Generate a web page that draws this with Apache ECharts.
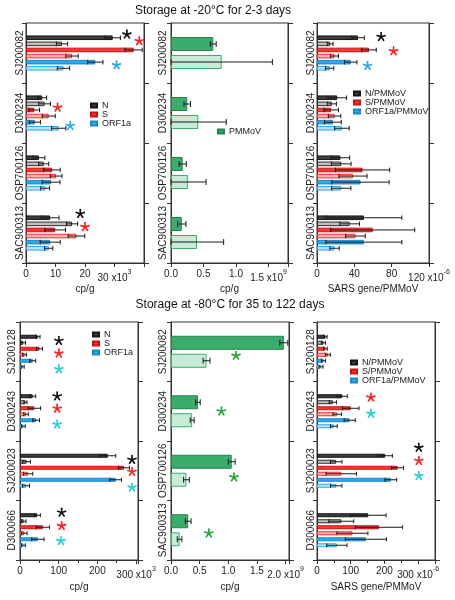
<!DOCTYPE html>
<html><head><meta charset="utf-8">
<script src="https://cdn.jsdelivr.net/npm/echarts@6/dist/echarts.min.js"></script>
<style>html,body{margin:0;padding:0;background:#fff}#c{width:455px;height:600px}</style>
</head><body><div id="c"></div>
<script>
// ================= DATA =================
const topSamples = ['SJ200082', 'D300234', 'OSP700126', 'SAC900313'];
const bottomSarsSamples = ['SJ200128', 'D300243', 'SJ200023', 'D300066'];
const bottomPmmovSamples = ['SJ200082', 'D300234', 'OSP700126', 'SAC900313'];

// A: -20°C, SARS genes, cp/g (x10^3); first (dark) and second (light) bar per gene
const A_N = [29.4, 5.5, 4.4, 8.2],    A_N_err = [2.6, 1.5, 2.0, 3.0];
const A_N2 = [12.2, 6.3, 6.0, 15.6],  A_N2_err = [1.9, 2.0, 1.7, 1.9];
const A_S = [36.5, 2.8, 8.8, 9.9],    A_S_err = [2.9, 1.8, 2.8, 3.5];
const A_S2 = [15.6, 7.7, 10.2, 17.1], A_S2_err = [2.1, 2.2, 2.0, 2.8];
const A_O = [23.5, 3.0, 8.5, 8.2],    A_O_err = [2.6, 1.9, 3.0, 3.4];
const A_O2 = [12.7, 11.1, 6.5, 7.7],  A_O2_err = [2.1, 2.4, 1.5, 1.4];
// stars: [x value, sample index, bar row, gene]
const A_stars = [[34.2, 0, -0.55, 'N'], [38.4, 0, 0.55, 'S'], [30.7, 0, 4.5, 'ORF1a'],
                 [10.7, 1, 1.6, 'S'], [15.0, 1, 4.6, 'ORF1a'],
                 [18.4, 3, -0.65, 'N'], [20.0, 3, 1.5, 'S']];

// B: -20°C, PMMoV cp/g (x10^9)
const B_P = [0.65, 0.25, 0.18, 0.165],  B_P_err = [0.045, 0.05, 0.055, 0.065];
const B_P2 = [0.78, 0.42, 0.26, 0.40],  B_P2_err = [0.78, 0.43, 0.28, 0.41];

// C: -20°C, SARS gene/PMMoV (x10^-6)
const C_N = [44, 21.7, 25, 50.2],     C_N_err = [6.7, 10, 10, 40.7];
const C_N2 = [14.1, 15.9, 26, 35],    C_N2_err = [3.1, 4.9, 10.5, 10.5];
const C_S = [55.7, 15.2, 48.8, 59.7], C_S_err = [7.8, 7.8, 29, 45];
const C_S2 = [18.8, 18.8, 38.6, 41.2], C_S2_err = [4.2, 6.7, 15, 10.5];
const C_O = [36.1, 17, 46.6, 50.2],   C_O_err = [6.7, 9, 30.7, 40.7];
const C_O2 = [13.5, 26.7, 26, 18.8],  C_O2_err = [4.5, 7.8, 10.3, 5];
const C_stars = [[68.7, 0, -0.15, 'N'], [82, 0, 2.2, 'S'], [54.2, 0, 4.6, 'ORF1a']];

// D: -80°C, SARS genes, cp/g (x10^3)
const D_N = [45.8, 32.8, 227, 44.6],   D_N_err = [6, 7.8, 20.5, 8];
const D_N2 = [8.6, 14, 17, 9.5],       D_N2_err = [5.6, 4, 10, 6];
const D_S = [50.3, 37.2, 269, 59.4],   D_S_err = [7.8, 16, 14, 17];
const D_S2 = [12, 15.6, 21, 11.3],     D_S2_err = [5, 6, 12, 7];
const D_O = [32.8, 41.7, 247.5, 46.3], D_O_err = [7.8, 8.7, 15, 16];
const D_O2 = [6.8, 8.6, 15.7, 8.7],    D_O2_err = [4, 5, 9, 5];
const D_stars = [[100.5, 0, 0.67, 'N'], [100.5, 0, 2.77, 'S'], [100.5, 0, 5.4, 'ORF1a'],
                 [96, 1, 0, 'N'], [96, 1, 2.05, 'S'], [96, 1, 4.7, 'ORF1a'],
                 [289.5, 2, 0.67, 'N'], [289.5, 2, 2.67, 'S'], [289.5, 2, 5.28, 'ORF1a'],
                 [107.6, 3, -0.45, 'N'], [107.6, 3, 1.78, 'S'], [105.8, 3, 4.28, 'ORF1a']];

// E: -80°C, PMMoV cp/g (x10^9)
const E_P = [1.97, 0.47, 1.06, 0.30],  E_P_err = [0.07, 0.04, 0.06, 0.05];
const E_P2 = [0.62, 0.37, 0.27, 0.15], E_P2_err = [0.06, 0.035, 0.05, 0.04];
const E_stars = [[1.135, 0, 0.72, 'PMMoV'], [0.88, 1, 0.5, 'PMMoV'], [1.10, 2, 0.86, 'PMMoV'], [0.66, 3, 0.67, 'PMMoV']];

// F: -80°C, SARS gene/PMMoV (x10^-6)
const F_N = [25, 75, 202, 152],   F_N_err = [5, 15, 21.5, 53];
const F_N2 = [19, 47, 57, 72],    F_N2_err = [6, 11, 17, 37];
const F_S = [25, 100, 239, 184],  F_S_err = [5.5, 24.5, 17.5, 70];
const F_S2 = [32, 60, 72, 105],   F_S2_err = [7.5, 12.5, 45, 46];
const F_O = [19, 97, 219, 145],   F_O_err = [6, 16.5, 17.5, 61];
const F_O2 = [12, 50, 57, 59],    F_O2_err = [6, 10, 17, 30];
const F_stars = [[160, 1, 0.2, 'S'], [160, 1, 2.9, 'ORF1a'], [302, 2, -1.35, 'N'], [302, 2, 0.85, 'S'], [302, 2, 3.35, 'ORF1a']];

// ================= STYLE =================
const FONT = "'Liberation Sans', Arial, Helvetica, sans-serif";
const AX = '#333';
const STY = {
  N:     { dark: ['#3d3d3d', '#151515'], light: ['#c0c0c0', '#2a2a2a'] },
  S:     { dark: ['#ff3434', '#d21010'], light: ['#ffb4b4', '#ff2a2a'] },
  ORF1a: { dark: ['#2ba8ee', '#1788cc'], light: ['#b9e2f9', '#2ba8ee'] },
  PMMoV: { dark: ['#3aad6c', '#22844c'], light: ['#c8ebd7', '#3aad6c'] }
};
const starTop = { N: '#111', S: '#ff2020', ORF1a: '#22a8ef' };
const starBot = { N: '#111', S: '#ff2020', ORF1a: '#22d2d2', PMMoV: '#1aa830' };

function sarsBars(suffix, arr) {
  return [
    ['N' + suffix, arr[0], arr[1], 'N', 'dark'],
    ['N' + suffix + ' (2)', arr[2], arr[3], 'N', 'light'],
    ['S' + suffix, arr[4], arr[5], 'S', 'dark'],
    ['S' + suffix + ' (2)', arr[6], arr[7], 'S', 'light'],
    ['ORF1a' + suffix, arr[8], arr[9], 'ORF1a', 'dark'],
    ['ORF1a' + suffix + ' (2)', arr[10], arr[11], 'ORF1a', 'light']
  ];
}

const panels = [
  { grid: { left: 26, top: 23, width: 118, height: 240 }, cats: topSamples, max: 40, interval: 10, last: 30, exp: '3', dec: 0, minor: false,
    axisName: 'cp/g', nameGap: 20, catMargin: 0.5, bw: 4.6, gap: 1.5,
    bars: sarsBars('', [A_N, A_N_err, A_N2, A_N2_err, A_S, A_S_err, A_S2, A_S2_err, A_O, A_O_err, A_O2, A_O2_err]),
    stars: A_stars, starColors: starTop },
  { grid: { left: 171, top: 23, width: 117, height: 240 }, cats: topSamples, max: 1.8, interval: 0.5, last: 1.5, exp: '9', dec: 1, minor: false,
    axisName: 'cp/g', nameGap: 20, catMargin: 2.5, bw: 14, gap: 4,
    bars: [['PMMoV', B_P, B_P_err, 'PMMoV', 'dark'], ['PMMoV (2)', B_P2, B_P2_err, 'PMMoV', 'light']],
    stars: [], starColors: starTop },
  { grid: { left: 317, top: 23, width: 112, height: 240 }, cats: topSamples, max: 120, interval: 40, last: 120, exp: '-6', dec: 0, minor: false,
    axisName: 'SARS gene/PMMoV', nameGap: 20, catMargin: 1, bw: 4.6, gap: 1.5,
    bars: sarsBars('/PMMoV', [C_N, C_N_err, C_N2, C_N2_err, C_S, C_S_err, C_S2, C_S2_err, C_O, C_O_err, C_O2, C_O2_err]),
    stars: C_stars, starColors: starTop },
  { grid: { left: 20, top: 322, width: 118, height: 238 }, cats: bottomSarsSamples, max: 305, interval: 100, last: 300, exp: '3', dec: 0, minor: true,
    axisName: 'cp/g', nameGap: 22, catMargin: 2.5, bw: 4, gap: 2,
    bars: sarsBars('', [D_N, D_N_err, D_N2, D_N2_err, D_S, D_S_err, D_S2, D_S2_err, D_O, D_O_err, D_O2, D_O2_err]),
    stars: D_stars, starColors: starBot },
  { grid: { left: 171, top: 322, width: 118, height: 238 }, cats: bottomPmmovSamples, max: 2.06, interval: 0.5, last: 2.0, exp: '9', dec: 1, minor: false,
    axisName: 'cp/g', nameGap: 22, catMargin: 3, bw: 14, gap: 4,
    bars: [['PMMoV', E_P, E_P_err, 'PMMoV', 'dark'], ['PMMoV (2)', E_P2, E_P2_err, 'PMMoV', 'light']],
    stars: E_stars, starColors: starBot },
  { grid: { left: 317, top: 322, width: 118, height: 238 }, cats: bottomSarsSamples, max: 350, interval: 100, last: 300, exp: '-6', dec: 0, minor: true,
    axisName: 'SARS gene/PMMoV', nameGap: 22, catMargin: 0.5, bw: 4, gap: 2,
    bars: sarsBars('/PMMoV', [F_N, F_N_err, F_N2, F_N2_err, F_S, F_S_err, F_S2, F_S2_err, F_O, F_O_err, F_O2, F_O2_err]),
    stars: F_stars, starColors: starBot }
];

// ================= OPTION =================
const option = {
  animation: false,
  textStyle: { fontFamily: FONT },
  grid: [], xAxis: [], yAxis: [], series: [],
  legend: [
    { left: 90, top: 101, data: ['N', 'S', 'ORF1a'] },
    { left: 217, top: 127, data: ['PMMoV'] },
    { left: 353, top: 89, data: ['N/PMMoV', 'S/PMMoV', 'ORF1a/PMMoV'] },
    { left: 92, top: 330, data: ['N', 'S', 'ORF1a'] },
    { left: 350, top: 358, data: ['N/PMMoV', 'S/PMMoV', 'ORF1a/PMMoV'] }
  ].map(l => Object.assign({
    orient: 'vertical', padding: 0, itemGap: 0, itemWidth: 6, itemHeight: 4, icon: 'rect', selectedMode: false,
    textStyle: { fontSize: 9, lineHeight: 8, color: '#222', fontFamily: FONT }
  }, l)),
  graphic: [
    { type: 'text', x: 213, y: 11, style: { text: 'Storage at -20°C for 2-3 days', font: '12px ' + FONT, fill: '#111', align: 'center', verticalAlign: 'middle', textAlign: 'center', textVerticalAlign: 'middle' } },
    { type: 'text', x: 230, y: 305, style: { text: 'Storage at -80°C for 35 to 122 days', font: '12px ' + FONT, fill: '#111', align: 'center', verticalAlign: 'middle', textAlign: 'center', textVerticalAlign: 'middle' } }
  ]
};

function starShape(cx, cy, r, color) {
  const ch = [];
  for (let k = 0; k < 5; k++) {
    const a = (-90 + 72 * k) * Math.PI / 180;
    ch.push({ type: 'line', shape: { x1: cx, y1: cy, x2: cx + r * Math.cos(a), y2: cy + r * Math.sin(a) },
              style: { stroke: color, lineWidth: 1.7, lineCap: 'round' } });
  }
  return ch;
}

panels.forEach((p, gi) => {
  option.grid.push(Object.assign({ show: true, borderColor: AX, borderWidth: 1, containLabel: false }, p.grid));
  option.xAxis.push({
    type: 'value', gridIndex: gi, min: 0, max: p.max, interval: p.interval,
    axisLine: { show: true, onZero: false, lineStyle: { color: AX, width: 1 } },
    axisTick: { show: true, length: 4, lineStyle: { color: AX } },
    minorTick: { show: p.minor, splitNumber: 2, length: 3, lineStyle: { color: AX } },
    splitLine: { show: false },
    axisLabel: {
      margin: 6, fontSize: 10, color: '#222', showMaxLabel: true,
      formatter: v => {
        if (Math.abs(v - p.last) < 1e-9) return '{a|' + v.toFixed(p.dec) + ' x10}{e|' + p.exp + '}';
        if (v > p.last + 1e-9) return '';
        return v.toFixed(p.dec);
      },
      rich: {
        a: { fontSize: 10, color: '#222', fontFamily: FONT, lineHeight: 14, verticalAlign: 'bottom' },
        e: { fontSize: 7, color: '#222', fontFamily: FONT, lineHeight: 14, verticalAlign: 'top' }
      }
    },
    name: p.axisName, nameLocation: 'middle', nameGap: p.nameGap,
    nameTextStyle: { fontSize: 10, color: '#222', fontFamily: FONT }
  });
  option.yAxis.push({
    type: 'category', gridIndex: gi, data: p.cats, inverse: true,
    axisLine: { show: true, lineStyle: { color: AX } },
    axisTick: { show: true, length: 4, interval: 0, lineStyle: { color: AX } },
    axisLabel: { interval: 0, rotate: 90, margin: p.catMargin, fontSize: 10, color: '#222', fontFamily: FONT },
    splitLine: { show: false }
  });
  option.yAxis.push({
    type: 'category', gridIndex: gi, position: 'right', data: p.cats, inverse: true,
    axisLine: { show: true, lineStyle: { color: AX } },
    axisTick: { show: true, length: 5, interval: 0, lineStyle: { color: AX } },
    axisLabel: { show: false }, splitLine: { show: false }
  });
  const yIdx = 2 * gi;
  const n = p.bars.length;
  const total = n * p.bw + (n - 1) * p.gap;
  const slotY = (center, k) => center - total / 2 + k * (p.bw + p.gap) + p.bw / 2;

  p.bars.forEach(b => {
    const st = STY[b[3]][b[4]];
    option.series.push({
      type: 'bar', name: b[0], xAxisIndex: gi, yAxisIndex: yIdx, data: b[1],
      barWidth: p.bw, barGap: (p.gap / p.bw * 100) + '%', silent: true,
      itemStyle: { color: st[0], borderColor: st[1], borderWidth: 1 }
    });
  });

  // error bars
  const errData = [];
  p.bars.forEach((b, k) => b[1].forEach((v, i) => errData.push([v, i, k, b[2][i]])));
  const capH = Math.min(p.bw, 6) / 2;
  option.series.push({
    type: 'custom', xAxisIndex: gi, yAxisIndex: yIdx, data: errData, encode: { x: 0, y: 1 }, silent: true, z: 3,
    renderItem: (params, api) => {
      const v = api.value(0), ci = api.value(1), k = api.value(2), e = api.value(3);
      const c = api.coord([0, ci]);
      const y = slotY(c[1], k);
      const xl = api.coord([Math.max(v - e, 0), ci])[0];
      const xr = api.coord([v + e, ci])[0];
      const s = { stroke: '#1a1a1a', lineWidth: 1 };
      return { type: 'group', children: [
        { type: 'line', shape: { x1: xl, y1: y, x2: xr, y2: y }, style: s },
        { type: 'line', shape: { x1: xl, y1: y - capH, x2: xl, y2: y + capH }, style: s },
        { type: 'line', shape: { x1: xr, y1: y - capH, x2: xr, y2: y + capH }, style: s }
      ] };
    }
  });

  // significance stars
  if (p.stars.length) {
    option.series.push({
      type: 'custom', xAxisIndex: gi, yAxisIndex: yIdx, data: p.stars.map(s => [s[0], s[1], s[2]]),
      encode: { x: 0, y: 1 }, silent: true, z: 4, clip: false,
      renderItem: (params, api) => {
        const x = api.value(0), ci = api.value(1), slot = api.value(2);
        const c = api.coord([x, ci]);
        const y = slotY(c[1], slot);
        const col = p.starColors[p.stars[params.dataIndex][3]];
        return { type: 'group', children: starShape(c[0], y, 4.2, col) };
      }
    });
  }
});

const chart = echarts.init(document.getElementById('c'), null, { renderer: 'canvas' });
chart.setOption(option);
</script>
</body></html>
